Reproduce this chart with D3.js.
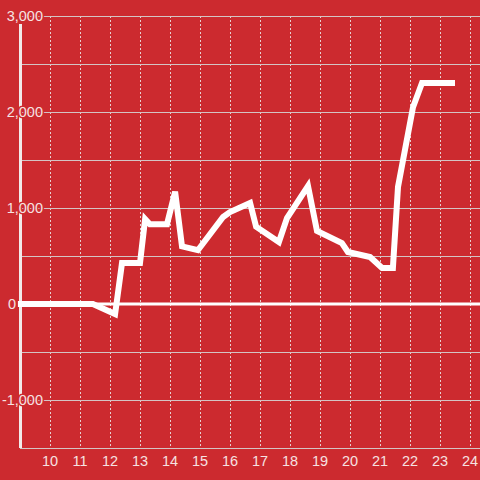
<!DOCTYPE html>
<html>
<head>
<meta charset="utf-8">
<script src="https://cdn.jsdelivr.net/npm/d3@7/dist/d3.min.js"></script>
<style>
html,body{margin:0;padding:0;background:#cc2a2f;}
svg{display:block;}
</style>
</head>
<body>
<svg id="chart" width="480" height="480"></svg>
<script>
const hours = [8.93, 11.43, 12.17, 12.4, 13.0, 13.17, 13.33, 13.9, 14.17, 14.4, 14.93, 15.77, 16.0, 16.67, 16.87, 17.63, 17.9, 18.6, 18.9, 19.73, 19.93, 20.67, 21.07, 21.43, 21.6, 22.1, 22.4, 23.5];
const values = [0, 0, -105, 427, 427, 885, 830, 830, 1170, 600, 560, 906, 958, 1052, 805, 646, 896, 1229, 760, 635, 542, 490, 375, 375, 1219, 2050, 2302, 2302];
const xTicks = [10, 11, 12, 13, 14, 15, 16, 17, 18, 19, 20, 21, 22, 23, 24];
const yGrid = [-1000, -500, 500, 1000, 1500, 2000, 2500, 3000];
const yLabels = [-1000, 0, 1000, 2000, 3000];

(function () {
const svg = d3.select("#chart");
const mLeft = 20, mRight = 480, mTop = 16, mBottom = 448;
const bg = "#cc2a2f";
const x = d3.scaleLinear().domain([9, 9 + (mRight - mLeft) / 30]).range([mLeft, mRight]);
const y = d3.scaleLinear().domain([-1500, 3000]).range([mBottom, mTop]);

svg.append("rect").attr("width", 480).attr("height", 480).attr("fill", bg);

// vertical dotted grid
svg.append("g").selectAll("line").data(xTicks).join("line")
  .attr("x1", d => Math.round(x(d)) + 0.5).attr("x2", d => Math.round(x(d)) + 0.5)
  .attr("y1", mTop).attr("y2", mBottom)
  .attr("stroke", "#e6d0d0").attr("stroke-width", 1).attr("stroke-dasharray", "2,2");

// horizontal grid
svg.append("g").selectAll("line").data(yGrid).join("line")
  .attr("x1", mLeft).attr("x2", mRight)
  .attr("y1", d => Math.round(y(d)) + 0.5).attr("y2", d => Math.round(y(d)) + 0.5)
  .attr("stroke", "#d4c4c4").attr("stroke-width", 1);

// bottom axis line
svg.append("line").attr("x1", mLeft).attr("x2", mRight)
  .attr("y1", mBottom + 0.5).attr("y2", mBottom + 0.5)
  .attr("stroke", "#d4c4c4").attr("stroke-width", 1);

// zero line
svg.append("line").attr("x1", mLeft).attr("x2", mRight)
  .attr("y1", y(0)).attr("y2", y(0))
  .attr("stroke", "#ffffff").attr("stroke-width", 3);

// left axis line
svg.append("line").attr("x1", mLeft + 0.5).attr("x2", mLeft + 0.5)
  .attr("y1", 24).attr("y2", mBottom)
  .attr("stroke", "#f2eaea").attr("stroke-width", 3);

// data line
const line = d3.line().x((d, i) => x(hours[i])).y(d => y(d));
svg.append("path").datum(values)
  .attr("d", line)
  .attr("fill", "none").attr("stroke", "#ffffff").attr("stroke-width", 6)
  .attr("stroke-linejoin", "miter").attr("stroke-linecap", "butt");

// y labels with halo
const fmt = d3.format(",");
svg.append("g").selectAll("text").data(yLabels).join("text")
  .attr("x", d => d === 0 ? 16 : 43).attr("y", d => y(d)).attr("dy", "0.35em")
  .attr("text-anchor", "end")
  .attr("font-family", "'Liberation Sans', Arial, sans-serif")
  .attr("font-size", 14.5)
  .attr("fill", "#f6e2e2")
  .attr("stroke", bg).attr("stroke-width", 3).attr("paint-order", "stroke")
  .text(d => fmt(d).replace("\u2212", "-"));

// x labels
svg.append("g").selectAll("text").data(xTicks).join("text")
  .attr("x", d => x(d)).attr("y", 466)
  .attr("text-anchor", "middle")
  .attr("font-family", "'Liberation Sans', Arial, sans-serif")
  .attr("font-size", 14.5)
  .attr("fill", "#f6e2e2")
  .text(d => d);
})();
</script>
</body>
</html>
